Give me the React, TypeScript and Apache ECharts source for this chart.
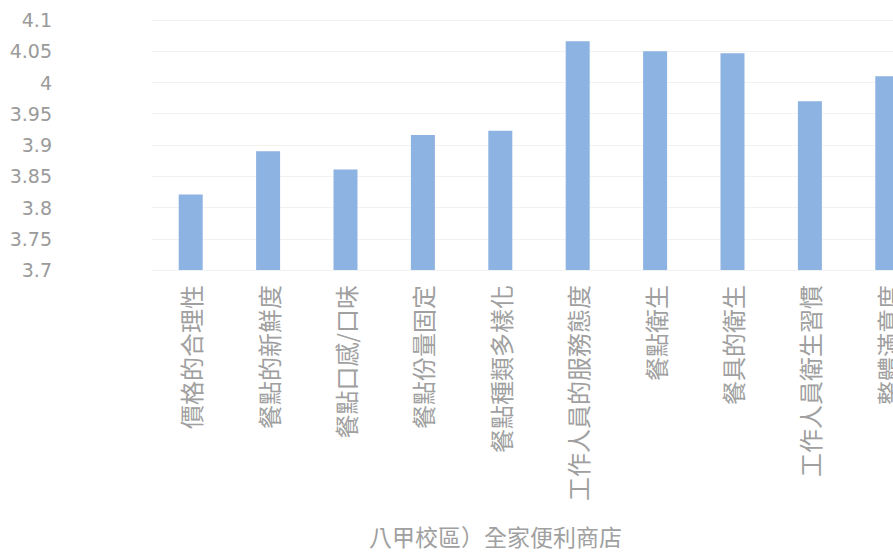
import React, { useEffect, useRef } from "react";
import * as echarts from "echarts";

const categories = [
  "價格的合理性",
  "餐點的新鮮度",
  "餐點口感/口味",
  "餐點份量固定",
  "餐點種類多樣化",
  "工作人員的服務態度",
  "餐點衛生",
  "餐具的衛生",
  "工作人員衛生習慣",
  "整體滿意度",
];
const values = [3.821, 3.89, 3.861, 3.916, 3.923, 4.066, 4.05, 4.047, 3.97, 4.01];
const yMin = 3.7;
const yMax = 4.1;
const yStep = 0.05;
const titleText = "八甲校區）全家便利商店";

export default function App() {
  const ref = useRef<HTMLDivElement>(null);
  useEffect(() => {
    if (!ref.current) return;
    const chart = echarts.init(ref.current, null, { renderer: "svg" });
    chart.setOption({
      animation: false,
      backgroundColor: "#ffffff",
      title: {
        text: titleText,
        left: 364,
        top: 519,
        textStyle: {
          fontFamily: "Noto Sans CJK TC",
          fontSize: 23,
          fontWeight: "normal",
          color: "#a0a0a0",
        },
      },
      grid: { left: 152, top: 20, right: 0, height: 250, containLabel: false },
      xAxis: {
        type: "category",
        data: categories,
        axisLine: { show: false },
        axisTick: { show: false },
        axisLabel: {
          rotate: 90,
          margin: 15,
          interval: 0,
          fontFamily: "Noto Sans CJK TC",
          fontSize: 24,
          color: "#a0a0a0",
        },
      },
      yAxis: {
        type: "value",
        min: yMin,
        max: yMax,
        interval: yStep,
        axisLine: { show: false },
        axisTick: { show: false },
        splitLine: { lineStyle: { color: "#f2f2f2", width: 1 } },
        axisLabel: {
          margin: 100,
          fontFamily: "DejaVu Sans",
          fontSize: 19,
          color: "#9a9a9a",
          formatter: (v: number) => String(+v.toFixed(2)),
        },
      },
      series: [
        {
          type: "bar",
          data: values,
          barWidth: 24,
          itemStyle: { color: "#8db3e2" },
        },
      ],
    });
    return () => chart.dispose();
  }, []);
  return (
    <div
      style={{
        position: "fixed",
        left: 0,
        top: 0,
        width: 893,
        height: 553,
        overflow: "hidden",
        background: "#ffffff",
      }}
    >
      <div ref={ref} style={{ width: 926, height: 553 }} />
    </div>
  );
}
